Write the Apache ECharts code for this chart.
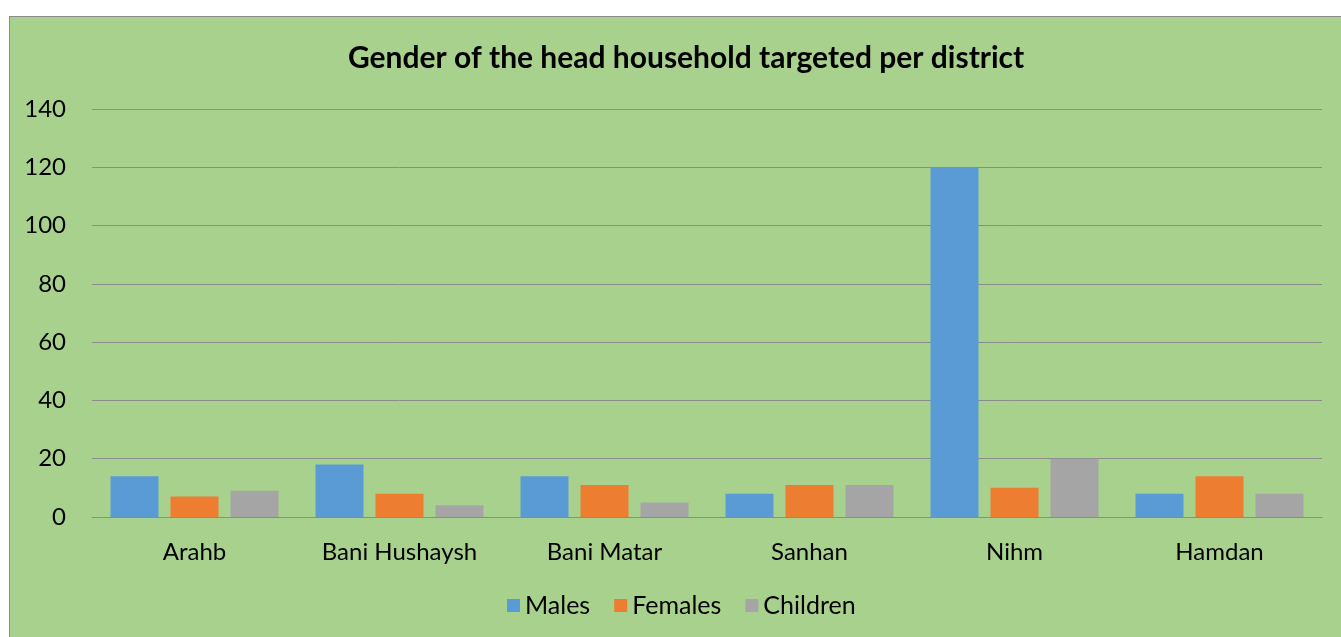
<!DOCTYPE html>
<html>
<head>
<meta charset="utf-8">
<script src="https://cdn.jsdelivr.net/npm/echarts@6/dist/echarts.min.js"></script>
<style>
  html, body { margin: 0; padding: 0; background: #ffffff; }
  .box {
    position: absolute; left: 9px; top: 16px; width: 1340px; height: 630px;
    background: #a9d18e; border: 1px solid #8c8c8c;
  }
  .chart { position: absolute; left: 0; top: 0; width: 1341px; height: 637px; }
</style>
</head>
<body>
<div class="box"></div>
<div class="chart"></div>
<script>
var districts = ['Arahb', 'Bani Hushaysh', 'Bani Matar', 'Sanhan', 'Nihm', 'Hamdan']
var males = [14, 18, 14, 8, 120, 8]
var females = [7, 8, 11, 11, 10, 14]
var children = [9, 4, 5, 11, 20, 8]
var yTicks = [0, 20, 40, 60, 80, 100, 120, 140]

var chart = echarts.init(document.querySelector('.chart'))
var font = 'Lato, "Open Sans", sans-serif'
var option = {
  backgroundColor: 'transparent',
  animation: false,
  title: {
    text: 'Gender of the head household targeted per district',
    left: 343,
    top: 38,
    textStyle: { fontFamily: font, fontSize: 30, fontWeight: 'bold', color: '#000' }
  },
  legend: {
    data: ['Males', 'Females', 'Children'],
    bottom: 14,
    left: 502,
    icon: 'rect',
    itemWidth: 13,
    itemHeight: 13,
    itemGap: 24,
    textStyle: { fontFamily: font, fontSize: 25, color: '#000' }
  },
  grid: {
    left: 92,
    right: 19,
    top: 109,
    bottom: 120
  },
  xAxis: {
    type: 'category',
    data: districts,
    axisTick: { show: false },
    axisLine: { lineStyle: { color: '#8c8c8c', width: 1 } },
    axisLabel: { fontFamily: font, fontSize: 24, color: '#000', margin: 23 }
  },
  yAxis: {
    type: 'value',
    min: yTicks[0],
    max: yTicks[yTicks.length - 1],
    interval: 20,
    axisLine: { show: false },
    axisTick: { show: false },
    splitLine: { lineStyle: { color: '#8c8c8c', width: 1 } },
    axisLabel: { fontFamily: font, fontSize: 24, color: '#000', margin: 26 }
  },
  series: [
    { name: 'Males', type: 'bar', data: males, barWidth: 48, barGap: '25%', itemStyle: { color: '#5b9bd5' } },
    { name: 'Females', type: 'bar', data: females, barWidth: 48, barGap: '25%', itemStyle: { color: '#ed7d31' } },
    { name: 'Children', type: 'bar', data: children, barWidth: 48, barGap: '25%', itemStyle: { color: '#a5a5a5' } }
  ]
}
chart.setOption(option)
</script>
</body>
</html>
